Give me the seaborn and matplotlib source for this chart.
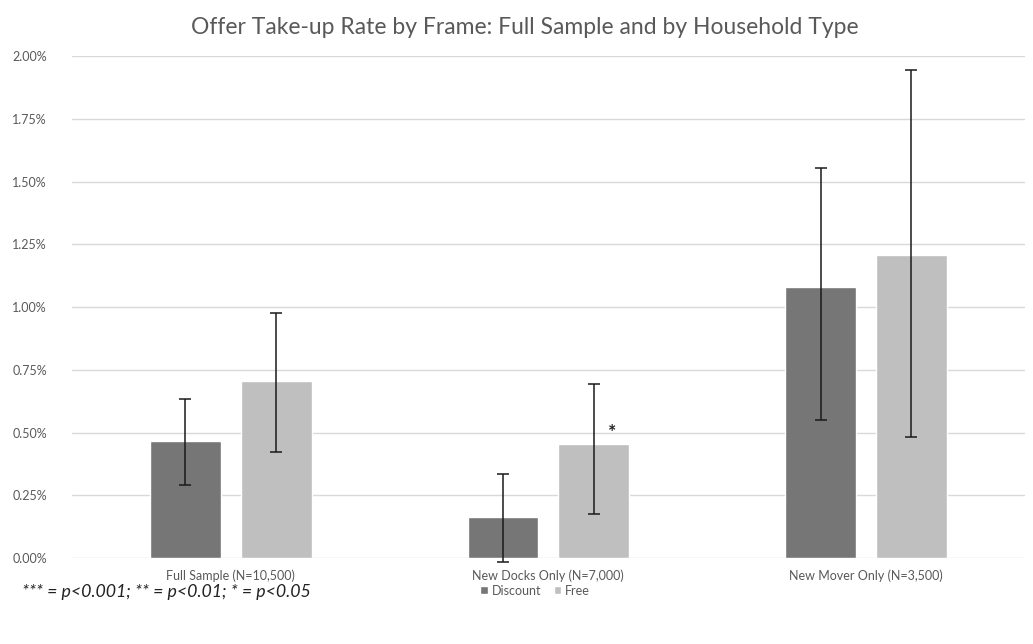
import numpy as np
import pandas as pd
import matplotlib
matplotlib.use("Agg")
import matplotlib.pyplot as plt
from matplotlib.ticker import PercentFormatter
import seaborn as sns

# values (percent)
categories = ["Full Sample (N=10,500)", "New Docks Only (N=7,000)", "New Mover Only (N=3,500)"]
frames = ["Discount", "Free"]
discount = [0.467, 0.165, 1.078]
free = [0.705, 0.456, 1.207]
discount_lo = [0.289, -0.015, 0.55]
discount_hi = [0.635, 0.335, 1.555]
free_lo = [0.423, 0.175, 0.483]
free_hi = [0.975, 0.695, 1.943]
stars = ["", "*", ""]  # significance marks on the Free bars

COLORS = {"Discount": "#767676", "Free": "#bfbfbf"}
TEXT = "#595959"

df = pd.DataFrame({
    "category": categories * 2,
    "frame": ["Discount"] * 3 + ["Free"] * 3,
    "rate": discount + free,
    "lo": discount_lo + free_lo,
    "hi": discount_hi + free_hi,
})

sns.set_theme(style="white")
plt.rcParams["font.family"] = ["Lato", "DejaVu Sans"]

fig = plt.figure(figsize=(10.33, 6.44), dpi=100)
ax = fig.add_axes([0.0697, 0.1335, 0.9223, 0.7795])

sns.barplot(
    data=df, x="category", y="rate", hue="frame", hue_order=frames,
    palette=COLORS, width=0.572, gap=0.22, errorbar=None,
    saturation=1, ax=ax, zorder=2, legend=True,
)

# error bars, positioned on the drawn bars
bars = [p for p in ax.patches if p.get_width() > 0][:6]
for bar, (_, row) in zip(bars, df.iterrows()):
    xc = bar.get_x() + bar.get_width() / 2
    ax.errorbar(
        xc, row["rate"],
        yerr=[[row["rate"] - row["lo"]], [row["hi"] - row["rate"]]],
        fmt="none", ecolor="#1a1a1a", elinewidth=1.1, capsize=4.3,
        capthick=1.1, zorder=3, clip_on=False,
    )

for bar, mark in zip(bars[3:], stars):
    if mark:
        xc = bar.get_x() + bar.get_width() / 2
        ax.annotate(mark, (xc, 0.513), xytext=(13, -2), textcoords="offset points",
                    ha="center", va="center", fontsize=14, fontweight="bold",
                    color="#222222")

ax.set_ylim(0, 2.0)
ax.set_xlim(-0.5, 2.5)
ax.set_yticks(np.arange(0, 2.01, 0.25))
ax.yaxis.set_major_formatter(PercentFormatter(decimals=2))
ax.grid(axis="y", color="#d9d9d9", linewidth=1, zorder=0)
ax.set_axisbelow(True)
sns.despine(ax=ax, left=True, bottom=True, top=True, right=True)
ax.tick_params(axis="both", length=0, colors=TEXT, labelsize=9)
ax.tick_params(axis="y", pad=18)
ax.tick_params(axis="x", pad=8)
ax.set_xlabel("")
ax.set_ylabel("")

fig.text(0.508, 0.958, "Offer Take-up Rate by Frame: Full Sample and by Household Type",
         fontsize=16.5, color=TEXT, ha="center", va="center")

handles, labels = ax.get_legend_handles_labels()
ax.get_legend().remove()
fig.legend(handles, labels, loc="center", bbox_to_anchor=(0.518, 0.083), ncol=2,
           frameon=False, fontsize=9, labelcolor=TEXT, handlelength=0.6,
           handleheight=0.6, handletextpad=0.3, columnspacing=1.0)

fig.text(0.021, 0.080, "*** = p<0.001; ** = p<0.01; * = p<0.05",
         fontsize=12.8, style="italic", color="#222222", va="center")

fig.savefig("out.png", dpi=100)
